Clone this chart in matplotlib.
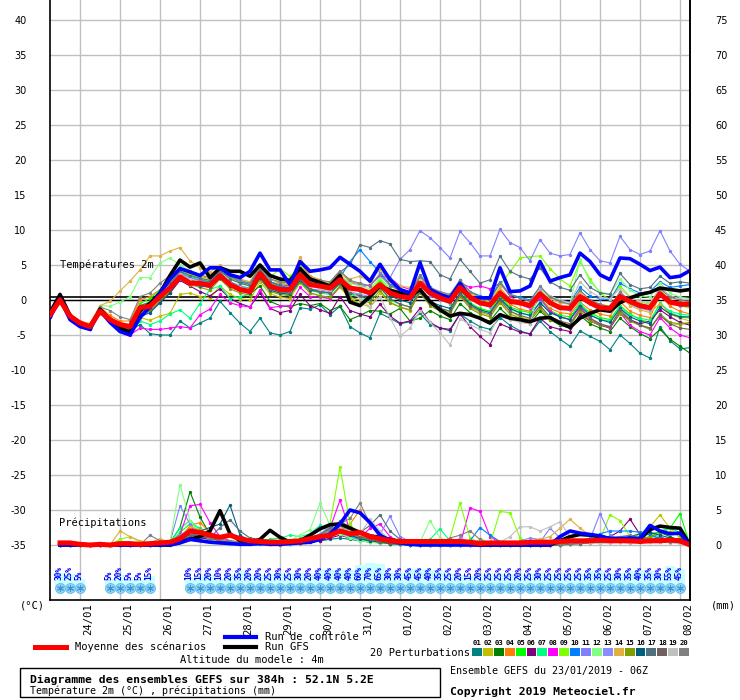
import matplotlib
matplotlib.use('Agg')
import matplotlib.pyplot as plt
from matplotlib.patches import Rectangle

plt.rcParams['font.family'] = ['DejaVu Sans Mono', 'DejaVu Sans']

# ---------------- data ----------------
step_hours = 6
date_labels = ['24/01', '25/01', '26/01', '27/01', '28/01', '29/01', '30/01', '31/01',
               '01/02', '02/02', '03/02', '04/02', '05/02', '06/02', '07/02', '08/02']

temp_mean = [-2.1, 0.0, -2.3, -3.3, -3.8, -1.6, -2.8, -3.5, -3.8,
             -1.1, -0.9, 0.5, 1.7, 3.3, 2.4, 2.4, 2.1, 3.5, 2.2, 1.5, 1.2,
             3.8, 2.0, 1.5, 1.5, 3.6, 2.2, 2.0, 1.7, 2.9, 1.7, 1.5, 1.0, 2.2, 1.0, 0.5, 0.3, 2.4, 1.0, 0.3, -0.2,
             1.8, 0.4, -0.4, -0.7, 1.0, -0.2, -0.4, -0.8, 0.9, -0.4, -1.1, -1.2, 0.5, -0.4, -1.1, -1.2, 0.5, -0.2, -0.8, -1.1, 0.9, -0.3, -0.6, -0.6]
temp_control = [-2.5, 0.2, -2.8, -3.8, -4.2, -1.5, -3.2, -4.5, -5.0,
                -2.5, -1.0, 1.0, 3.0, 4.5, 4.0, 3.5, 4.6, 4.6, 3.6, 3.2, 4.1,
                6.7, 4.3, 4.3, 2.2, 5.5, 4.1, 4.3, 4.6, 6.1, 5.1, 4.1, 2.7, 5.1, 2.9, 1.5, 1.0, 5.3, 1.5, 0.8, 0.3,
                2.4, 0.3, 0.3, 0.3, 4.6, 1.2, 1.3, 2.0, 5.5, 2.7, 3.2, 3.6, 6.7, 5.5, 3.6, 2.9, 6.0, 5.9, 5.1, 4.2, 4.7, 3.2, 3.4, 4.2]
temp_gfs = [-1.8, 0.8, -2.2, -3.5, -4.0, -1.3, -2.8, -4.0, -4.6,
            -1.5, -0.5, 1.0, 3.5, 5.7, 4.7, 5.3, 3.2, 4.6, 4.1, 4.1, 3.4,
            5.0, 3.5, 3.0, 2.8, 4.5, 3.0, 2.5, 2.0, 3.5, -0.3, -0.8, 0.5, 2.0, 1.4, 1.0, 0.5, 1.5, -0.2, -1.4, -2.3,
            -1.9, -2.1, -2.6, -3.3, -2.1, -2.6, -2.8, -3.1, -2.6, -2.5, -3.3, -3.9, -2.6, -1.9, -1.4, -1.6, -0.4, 0.3, 0.8, 1.1, 1.7, 1.5, 1.3, 1.5]

temp_p01 = [-2.3, 0.2, -2.6, -3.6, -4.2, -1.8, -3.0, -3.8, -4.4,
            -3.5, -4.8, -5.0, -5.0, -3.0, -4.0, -3.3, -2.6, -0.2, -1.8, -3.3, -4.5,
            -2.6, -4.7, -5.0, -4.5, -1.1, -1.3, -0.7, -2.1, -0.9, -3.8, -4.7, -5.4, -1.9, -2.6, -3.4, -3.1, -1.9, -3.5, -4.0, -4.4,
            -2.0, -3.0, -3.8, -4.2, -2.5, -3.6, -4.4, -4.9, -3.0, -4.5, -5.6, -6.6, -4.4, -5.2, -5.9, -7.1, -5.0, -6.2, -7.6, -8.3, -3.8, -5.8, -7.0, -6.8]
temp_p02 = [-2.0, 0.1, -2.2, -3.2, -3.9, -1.4, -2.7, -3.6, -4.0,
            -2.5, -2.9, -2.3, -1.9, 0.8, 1.0, 0.5, 0.3, 2.0, 0.8, 0.2, 0.0,
            2.6, 0.9, 0.4, 0.2, 2.5, 1.0, 0.6, 0.3, 1.8, 0.2, -0.5, -1.0, 1.0, -0.3, -1.0, -1.5, 1.2, -0.6, -1.4, -1.8,
            0.5, -1.0, -1.8, -2.2, -0.3, -1.6, -2.4, -2.8, -1.0, -2.6, -3.2, -3.6, -1.4, -2.8, -3.5, -3.9, -2.0, -3.0, -3.6, -4.0, -2.2, -3.4, -3.5, -3.3]
temp_p03 = [-2.4, -0.2, -2.5, -3.5, -4.0, -1.7, -2.9, -3.7, -4.1,
            -1.6, -1.0, 0.4, 1.8, 3.6, 2.9, 2.5, 2.0, 3.8, 2.0, 1.4, 0.9,
            2.0, -0.2, -0.8, -1.0, -0.5, -0.8, -0.5, -1.5, -0.9, -2.8, -2.2, -1.5, -1.6, -2.0, -1.2, -3.0, -2.6, -1.5, -2.3, -2.8,
            -0.5, -1.8, -2.6, -3.0, -1.2, -2.5, -3.0, -3.4, -1.6, -2.8, -3.6, -4.0, -2.2, -3.4, -4.0, -4.5, -2.6, -3.8, -4.8, -5.5, -4.2, -5.6, -6.6, -7.6]
temp_p04 = [-1.9, 0.3, -2.0, -3.0, -3.6, -1.0, -2.2, -3.0, -3.0,
            0.0, 0.5, 1.5, 2.8, 4.3, 3.8, 3.4, 3.0, 4.5, 3.2, 2.6, 2.3,
            4.8, 3.0, 2.4, 2.2, 5.3, 3.4, 2.9, 2.4, 4.0, 2.6, 2.3, 2.0, 5.1, 2.2, 1.2, 0.9, 3.0, 1.6, 1.0, 0.4,
            2.3, 0.8, -0.2, -0.8, 1.5, -0.6, -1.3, -1.6, 0.3, -1.2, -1.8, -2.0, -0.3, -1.4, -2.0, -2.3, -0.2, -1.6, -2.2, -2.5, 0.8, -0.9, -1.6, -2.0]
temp_p05 = [-2.2, 0.0, -2.4, -3.4, -3.9, -1.5, -2.6, -3.4, -3.6,
            -0.5, 0.2, 1.4, 2.5, 4.0, 3.4, 3.0, 2.6, 4.0, 2.6, 2.0, 1.7,
            4.2, 2.4, 1.9, 1.6, 4.0, 2.5, 2.2, 1.9, 3.0, 1.8, 1.2, 0.8, 2.8, 1.2, 0.6, 0.2, 2.6, 0.8, 0.0, -0.5,
            1.4, -0.4, -1.2, -1.6, 0.6, -1.0, -1.5, -1.8, 0.4, -1.5, -2.2, -2.4, -0.6, -1.8, -2.5, -2.8, -0.8, -2.0, -2.8, -3.2, -0.4, -1.8, -2.4, -2.6]
temp_p06 = [-2.3, -0.1, -2.5, -3.5, -4.1, -1.7, -3.0, -3.8, -4.3,
            -2.0, -1.6, -0.2, 1.0, 2.8, 2.0, 1.2, 0.6, 1.6, 0.2, -0.5, -1.0,
            1.0, -1.2, -1.8, -1.5, 0.8, -0.8, -1.4, -1.9, 0.5, -1.5, -2.0, -2.4, -0.6, -2.3, -3.3, -3.0, -1.2, -3.2, -4.0, -4.2,
            -2.0, -3.8, -5.2, -6.4, -3.4, -4.0, -4.6, -4.8, -2.6, -3.8, -4.2, -4.5, -2.0, -3.0, -3.6, -4.0, -1.8, -2.8, -3.4, -3.0, -1.4, -2.4, -3.2, -3.6]
temp_p07 = [-2.1, 0.0, -2.3, -3.3, -3.9, -1.7, -2.9, -3.8, -4.6,
            -3.0, -3.5, -3.0, -2.0, -1.4, -2.6, -0.5, 1.5, 2.0, 0.2, 0.5, 0.8,
            3.0, 1.5, 1.0, 0.8, 2.6, 1.4, 1.0, 0.8, 2.4, 0.8, 0.4, 0.0, 1.8, 0.0, -0.6, -1.0, 1.5, -0.4, -1.2, -1.6,
            1.0, -0.6, -1.4, -1.8, 0.3, -1.3, -1.9, -2.2, -0.2, -1.8, -2.4, -2.8, -0.4, -2.0, -2.8, -3.0, -1.0, -2.2, -2.6, -2.9, -0.6, -1.6, -2.0, -2.2]
temp_p08 = [-2.2, 0.1, -2.4, -3.4, -4.0, -1.8, -3.2, -4.2, -5.0,
            -4.0, -4.2, -4.2, -4.0, -3.8, -4.0, -2.1, -1.3, 0.8, -0.4, -0.8, -1.0,
            1.5, -1.1, -0.9, -0.8, 1.8, 0.5, 0.4, 0.2, 2.0, 1.6, 1.8, 2.2, 3.4, 3.2, 2.0, 1.5, 3.0, 1.4, 0.8, 0.5,
            2.5, 1.8, 2.0, 1.6, 2.4, 0.6, -0.6, -1.2, 0.2, -1.6, -2.4, -2.8, -1.0, -2.6, -3.4, -4.0, -1.8, -3.6, -4.5, -5.0, -2.5, -4.0, -5.0, -5.4]
temp_p09 = [-2.0, 0.2, -2.1, -3.1, -3.7, -1.3, -2.5, -3.3, -3.5,
            -0.8, -0.3, 1.0, 2.4, 4.2, 3.6, 3.2, 2.8, 4.4, 3.0, 2.4, 2.0,
            4.4, 3.2, 4.5, 3.4, 4.8, 3.2, 2.8, 2.4, 3.6, 2.0, 1.6, 1.2, 3.0, 1.5, 0.8, 0.4, 2.8, 1.0, 0.5, 0.6,
            2.8, 1.2, 0.4, 0.2, 2.2, 4.0, 6.0, 6.2, 6.3, 4.5, 3.0, 2.0, 5.5, 3.0, 1.0, 0.0, 2.0, 0.5, -0.3, -0.6, 1.4, 0.0, -0.8, -1.2]
temp_p10 = [-2.0, 0.1, -2.3, -3.3, -3.8, -1.4, -2.7, -3.5, -3.9,
            -1.2, -0.6, 0.6, 2.0, 3.8, 3.2, 2.8, 2.6, 4.0, 3.4, 2.6, 2.2,
            4.5, 2.6, 2.0, 1.8, 4.2, 2.6, 2.4, 2.0, 3.2, 5.5, 7.2, 5.5, 3.9, 2.2, 1.6, 1.2, 3.6, 1.8, 1.0, 0.6,
            2.8, 1.2, 0.6, 0.2, 2.6, 0.8, 0.4, 0.0, 1.8, 0.5, 0.0, -0.3, 1.8, 0.6, 0.2, 0.0, 2.4, 1.6, 1.0, 1.2, 2.6, 1.8, 2.0, 2.2]
temp_p11 = [-2.1, 0.0, -2.2, -3.2, -3.7, -1.5, -2.7, -3.5, -3.8,
            -1.0, -0.4, 0.8, 2.2, 3.9, 3.2, 2.8, 2.4, 3.8, 2.6, 2.0, 1.6,
            4.0, 2.2, 1.8, 1.6, 3.6, 2.2, 2.0, 1.8, 3.4, 2.4, 2.2, 2.0, 3.8, 3.2, 5.8, 7.2, 9.9, 8.9, 7.5, 6.0,
            9.8, 8.2, 6.3, 6.3, 10.1, 8.2, 7.5, 5.6, 8.6, 6.7, 6.3, 6.5, 9.6, 7.2, 5.6, 5.3, 9.1, 7.2, 6.5, 7.0, 9.9, 7.0, 5.1, 4.1]
temp_p12 = [-2.0, 0.2, -2.1, -3.0, -3.4, -0.8, -0.9, -0.3, 0.5,
            3.2, 3.2, 5.3, 6.0, 5.0, 4.2, 3.6, 3.2, 4.6, 3.4, 2.8, 2.6,
            4.6, 3.0, 2.6, 2.4, 4.4, 3.0, 2.6, 2.3, 3.6, 2.4, 2.0, 1.6, 3.2, 1.6, 1.0, 0.6, 2.8, 1.2, 0.6, 0.2,
            2.2, 0.6, 0.0, -0.4, 1.8, 0.2, -0.2, -0.5, 1.6, 0.2, -0.4, -0.6, 5.8, 2.6, 1.2, 0.8, 3.0, 1.4, 0.6, 0.4, 2.4, 1.0, 0.4, 0.2]
temp_p13 = [-2.3, 0.0, -2.4, -3.4, -3.9, -1.6, -2.8, -3.6, -4.0,
            -1.2, -0.8, 0.5, 1.8, 3.5, 2.8, 2.4, 2.2, 3.6, 2.4, 1.8, 1.4,
            3.6, 1.8, 1.2, 1.0, 3.0, 1.6, 1.4, 1.2, 2.6, 1.2, 0.8, 0.5, 2.0, 0.8, 0.4, 0.2, 2.2, 0.6, 0.0, -0.4,
            1.6, 0.2, -0.6, -1.0, 1.0, -0.2, -0.6, -1.0, 1.4, -0.4, -1.0, -1.4, 0.6, -0.6, -1.2, -1.6, 0.8, -0.6, -1.2, -1.5, 1.0, -0.4, -0.8, -1.0]
temp_p14 = [-1.9, 0.3, -2.0, -3.0, -3.4, -0.8, -0.2, 1.3, 2.7,
            4.3, 6.3, 6.3, 7.0, 7.5, 5.6, 4.6, 4.0, 5.0, 3.6, 3.0, 2.6,
            4.8, 3.0, 2.5, 2.2, 6.2, 3.4, 2.8, 2.5, 3.8, 3.0, 3.4, 2.6, 4.4, 2.8, 2.0, 1.8, 3.4, 1.6, 1.0, 0.8,
            2.6, 1.0, 0.2, -0.2, 1.8, 0.0, -0.5, -0.8, 1.2, 0.2, -0.4, -0.6, 1.2, -0.2, -0.6, -0.9, 0.6, -0.8, -1.4, -1.8, -0.5, -2.0, -2.6, -3.0]
temp_p15 = [-2.2, 0.0, -2.4, -3.5, -4.0, -1.7, -3.0, -3.9, -4.4,
            -2.2, -1.5, -0.2, 1.2, 3.0, 2.2, 1.8, 1.4, 3.0, 1.6, 1.0, 0.7,
            3.0, 1.2, 0.8, 0.6, 2.6, 1.0, 0.6, 0.4, 2.0, 0.4, 0.0, -0.4, 1.4, -0.4, -1.0, -1.4, 1.0, -0.8, -1.6, -2.0,
            0.6, -1.2, -2.0, -2.4, -0.4, -2.0, -2.6, -3.0, -1.2, -2.8, -3.4, -3.6, -1.6, -3.0, -3.6, -3.8, -1.8, -3.0, -3.6, -4.2, -2.0, -3.2, -3.4, -3.2]
temp_p16 = [-2.4, -0.1, -2.6, -3.6, -4.2, -1.8, -3.1, -4.0, -4.6,
            -2.4, -1.8, -0.4, 1.0, 3.2, 2.4, 2.0, 1.8, 3.2, 2.0, 1.4, 1.0,
            3.2, 1.4, 1.0, 0.8, 2.8, 1.4, 1.2, 1.0, 2.4, 1.0, 0.6, 0.3, 2.0, 0.6, 0.0, -0.4, 1.6, -0.2, -0.8, -1.2,
            1.0, -0.6, -1.4, -1.8, 0.2, -1.2, -1.8, -2.2, -0.4, -1.8, -2.4, -2.8, -0.8, -2.2, -2.8, -3.2, -1.2, -2.4, -3.0, -3.4, -1.0, -2.0, -2.4, -2.4]
temp_p17 = [-2.0, 0.1, -2.2, -3.2, -3.7, -1.4, -2.6, -3.4, -3.7,
            -0.8, -0.3, 1.0, 2.4, 4.1, 3.5, 3.1, 2.8, 4.2, 3.0, 2.4, 2.0,
            4.4, 2.6, 2.2, 2.0, 4.0, 2.8, 2.4, 2.2, 4.0, 5.0, 7.9, 7.5, 8.5, 8.0, 5.8, 5.5, 5.6, 5.5, 3.6, 3.0,
            5.8, 4.1, 2.4, 2.9, 6.3, 4.1, 3.4, 3.0, 4.6, 2.6, 1.8, 1.4, 3.6, 1.8, 1.0, 0.8, 3.8, 2.2, 1.6, 1.8, 3.4, 2.4, 2.6, 2.4]
temp_p18 = [-2.2, 0.0, -2.3, -3.4, -3.9, -1.5, -2.8, -3.6, -4.2,
            -1.8, -1.2, 0.2, 1.6, 3.4, 2.6, 2.2, 1.9, 3.4, 2.2, 1.6, 1.2,
            3.4, 1.6, 1.2, 1.0, 3.0, 1.6, 1.2, 1.0, 2.6, 1.0, 0.6, 0.2, 1.8, 0.2, -0.6, -1.0, 1.2, -0.6, -1.2, -1.6,
            0.8, -0.8, -1.6, -2.0, 0.0, -1.6, -2.2, -2.6, -0.8, -2.4, -3.0, -3.4, -1.2, -2.6, -3.4, -3.8, -1.4, -2.8, -3.6, -4.0, -2.2, -3.4, -4.0, -4.2]
temp_p19 = [-2.1, 0.1, -2.3, -3.3, -3.8, -1.5, -2.7, -3.5, -3.9,
            -1.0, -0.5, 0.8, 2.0, 3.7, 3.0, 2.6, 2.3, 3.7, 2.4, 1.8, 1.5,
            3.8, 2.0, 1.6, 1.4, 3.4, 2.0, 1.6, 1.4, 3.0, 1.4, 0.2, -1.0, 0.5, -2.5, -5.2, -4.0, -1.5, -3.2, -4.7, -6.4,
            -2.7, -3.5, -4.2, -4.7, -2.0, -2.8, -3.2, -3.4, 1.8, 0.6, 0.0, -0.4, 2.6, 1.2, 0.4, 0.2, 1.6, 0.4, -0.2, -0.4, 1.8, 0.6, 0.2, 0.0]
temp_p20 = [-2.0, 0.2, -2.1, -3.1, -3.6, -1.0, -1.5, -2.4, -2.8,
            0.5, 1.0, 2.4, 3.5, 4.6, 4.2, 3.6, 3.2, 4.6, 3.4, 2.8, 2.4,
            4.8, 3.0, 2.6, 2.4, 4.6, 3.2, 2.8, 2.6, 4.2, 2.8, 2.4, 2.0, 3.6, 2.0, 1.4, 1.0, 3.4, 1.8, 1.2, 0.8,
            2.8, 1.2, 0.4, 0.0, 2.4, 0.8, 0.2, -0.2, 2.0, 0.4, -0.2, -0.6, 1.4, 0.0, -0.6, -1.0, 1.2, -0.2, -0.8, -1.2, 1.6, 0.4, 0.0, -0.2]

# precipitation (mm per 6h), steps 1..64
precip_mean = [0.3, 0.3, 0.1, 0.0, 0.1, 0.0, 0.2, 0.2, 0.1, 0.2, 0.3, 0.4, 0.9, 2.0, 1.8, 1.4,
               1.1, 1.4, 0.9, 0.6, 0.5, 0.4, 0.4, 0.5, 0.6, 0.9, 1.2, 1.4, 2.0, 1.6, 1.8, 1.2,
               0.9, 0.6, 0.5, 0.5, 0.5, 0.5, 0.5, 0.5, 0.5, 0.4, 0.2, 0.3, 0.3, 0.3, 0.3, 0.4,
               0.4, 0.4, 0.5, 0.6, 0.6, 0.6, 0.7, 0.6, 0.6, 0.6, 0.5, 0.6, 0.6, 0.7, 0.6, 0.0]
precip_control = [0, 0, 0, 0, 0, 0, 0, 0, 0, 0, 0, 0, 0.3, 0.8, 0.6, 0.4,
                  0.3, 0.2, 0.1, 0.1, 0.2, 0.1, 0.1, 0.2, 0.3, 0.4, 0.8, 1.6, 3.0, 5.0, 4.6, 3.2,
                  1.4, 0.6, 0.3, 0.1, 0, 0, 0, 0, 0, 0, 0, 0, 0, 0, 0, 0,
                  0, 0, 1.2, 2.0, 1.7, 1.5, 1.3, 0.9, 0.9, 1.0, 0.9, 2.8, 2.0, 1.6, 1.7, 0]
precip_gfs = [0, 0, 0, 0, 0, 0, 0, 0, 0, 0, 0, 0, 0.4, 0.8, 1.2, 2.0,
              4.9, 1.6, 0.6, 0.3, 0.8, 2.1, 1.1, 0.4, 0.6, 1.4, 2.3, 2.9, 3.0, 2.4, 1.8, 1.3,
              1.1, 0.8, 0.5, 0.4, 0.3, 0.2, 0.2, 0.2, 0.1, 0.1, 0, 0, 0, 0, 0, 0,
              0, 0, 0.6, 1.2, 1.5, 1.4, 1.2, 0.9, 0.9, 0.9, 0.9, 2.2, 2.7, 2.5, 2.4, 0]

precip_p01 = [0, 0, 0, 0, 0, 0, 0, 0, 0, 0, 0, 0, 0.5, 1.5, 1.2, 0.8,
              0.6, 0.4, 0.2, 0.3, 0.2, 0.1, 0, 0.2, 0.3, 0.4, 0.6, 0.8, 1.0, 0.8, 0.6, 0.4,
              0.3, 0.2, 0.1, 0, 0, 0, 0, 0, 0, 0, 0, 0.2, 0.3, 0.2, 0.1, 0,
              0, 0.2, 0.3, 0.4, 0.5, 0.6, 0.8, 1.0, 0.6, 0.4, 0.6, 0.8, 1.2, 0.6, 0.3, 0]
precip_p02 = [0, 0, 0, 0, 0, 0, 0, 0.2, 0.1, 0, 0, 0, 0.6, 2.0, 1.6, 1.0,
              0.5, 0.3, 0.2, 0.4, 0.6, 0.3, 0.2, 0.1, 0.2, 0.5, 0.8, 1.5, 2.0, 1.2, 0.8, 0.6,
              0.4, 0.3, 0.2, 0.1, 0, 0, 0, 0, 0, 0, 0.8, 0.4, 0.2, 0, 0, 0,
              0, 0, 0, 0.3, 0.6, 0.9, 1.2, 0.8, 0.5, 0.8, 1.6, 2.6, 4.3, 2.4, 1.0, 0]
precip_p03 = [0, 0, 0, 0, 0, 0, 0, 0, 0, 0, 0, 0.3, 2.5, 7.6, 4.0, 1.5,
              0.8, 0.5, 0.3, 0.5, 0.8, 0.4, 0.3, 0.5, 0.6, 0.8, 1.4, 2.4, 2.0, 1.4, 1.0, 0.6,
              0.4, 0.2, 0.1, 0, 0, 0, 0, 0, 0, 0.2, 0.4, 0.3, 0.2, 0.1, 0, 0,
              0, 0, 0.2, 0.3, 0.4, 0.5, 0.6, 0.8, 1.0, 0.8, 1.2, 1.6, 1.8, 1.2, 0.6, 0]
precip_p04 = [0, 0, 0, 0, 0, 0, 0, 0.1, 0, 0, 0, 0, 0.8, 2.8, 3.2, 1.8,
              1.0, 0.6, 0.4, 0.3, 0.5, 0.8, 1.0, 0.7, 0.5, 0.6, 0.9, 1.6, 2.6, 3.0, 5.0, 3.0,
              1.5, 0.8, 0.4, 0.2, 0.1, 0, 0, 0, 0, 0, 0, 0, 0.2, 0.1, 0, 0,
              0, 0, 0, 0.2, 0.4, 0.5, 0.6, 0.5, 0.4, 0.5, 0.6, 0.8, 1.0, 0.8, 0.6, 0]
precip_p05 = [0, 0, 0, 0, 0, 0, 0, 0, 0, 0, 0, 0.2, 1.8, 3.0, 2.4, 1.2,
              0.6, 0.4, 0.2, 0.3, 0.4, 0.3, 0.2, 0.3, 0.5, 0.7, 1.0, 1.8, 2.5, 1.8, 1.2, 0.8,
              0.5, 0.3, 0.2, 0.1, 0, 0, 0, 0, 0.2, 0.3, 0.2, 0.1, 0, 0, 0, 0,
              0, 0, 0, 0.2, 0.3, 0.4, 0.6, 0.8, 0.6, 0.5, 0.8, 1.2, 2.0, 2.4, 4.5, 0]
precip_p06 = [0, 0, 0, 0, 0, 0, 0, 0, 0, 0, 0, 0.1, 0.5, 1.2, 1.0, 0.8,
              0.5, 0.3, 0.2, 0.2, 0.3, 0.2, 0.1, 0.2, 0.3, 0.4, 0.6, 1.0, 1.4, 1.0, 0.7, 0.5,
              0.3, 0.2, 0.1, 0, 0, 0, 0, 0, 0, 0, 0, 0, 0, 0, 0.2, 0.3,
              0.4, 0.6, 0.8, 0.7, 0.5, 0.6, 0.8, 1.2, 2.0, 3.7, 1.5, 0.8, 0.6, 0.5, 0.3, 0]
precip_p07 = [0, 0, 0, 0, 0, 0, 0, 0, 0, 0, 0, 0.4, 2.4, 3.5, 2.2, 1.0,
              0.5, 0.4, 0.3, 0.4, 0.6, 0.8, 1.0, 1.4, 1.2, 1.6, 2.8, 2.2, 1.6, 1.0, 0.7, 0.5,
              0.3, 0.2, 0.1, 0, 0, 0.8, 2.3, 0.6, 0.2, 0, 0, 0, 0.2, 0.1, 0, 0,
              0, 0, 0, 0.2, 0.3, 0.4, 0.5, 0.6, 0.4, 0.5, 0.6, 1.0, 1.6, 2.4, 1.8, 0]
precip_p08 = [0, 0, 0, 0, 0, 0, 0, 0, 0, 0, 0, 0.3, 1.5, 5.6, 5.8, 3.2,
              1.2, 0.6, 0.4, 0.3, 0.3, 0.2, 0.2, 0.3, 0.4, 0.6, 1.0, 2.4, 6.4, 2.0, 1.0, 2.4,
              3.0, 1.2, 0.4, 0.2, 0.1, 0, 0, 0, 0, 5.3, 4.8, 1.2, 0.3, 0.1, 0, 0,
              0, 0, 0, 0.1, 0.2, 0.3, 0.4, 0.5, 0.4, 0.3, 0.4, 0.6, 0.8, 0.6, 0.4, 0]
precip_p09 = [0, 0, 0, 0, 0, 0, 0.8, 1.2, 0.4, 0, 0, 0, 1.0, 2.0, 1.6, 1.0,
              0.5, 0.3, 0.2, 0.2, 0.3, 0.2, 0.1, 0.2, 0.4, 0.6, 1.2, 3.0, 11.1, 3.0, 1.2, 0.6,
              0.4, 0.2, 0.1, 0, 0, 0, 0, 1.0, 6.0, 1.0, 0.3, 0.1, 4.8, 4.6, 1.0, 0.2,
              0, 0, 0, 0.1, 0.2, 0.4, 0.8, 4.3, 3.5, 1.2, 0.6, 0.5, 0.6, 0.8, 1.0, 0]
precip_p10 = [0, 0, 0, 0, 0, 0, 0, 0, 0, 0, 0, 0.2, 1.2, 2.5, 2.0, 1.2,
              0.6, 0.4, 0.3, 0.3, 0.4, 0.3, 0.2, 0.3, 0.6, 0.9, 1.4, 2.0, 2.6, 2.0, 1.4, 1.0,
              0.6, 0.3, 0.2, 0.1, 0, 0, 0, 0, 0, 0.6, 2.5, 1.4, 0.5, 0.2, 0, 0,
              0, 0, 0.1, 0.3, 0.6, 1.0, 1.6, 2.0, 2.0, 2.0, 1.8, 1.4, 1.0, 0.8, 0.6, 0]
precip_p11 = [0, 0, 0, 0, 0, 0, 0, 0, 0, 0, 0, 0.4, 5.6, 3.0, 1.5, 0.8,
              0.5, 0.3, 0.2, 0.3, 0.4, 0.6, 0.4, 0.3, 0.8, 1.2, 2.6, 2.0, 1.6, 1.2, 0.8, 1.2,
              1.5, 4.1, 1.2, 0.5, 0.3, 0.1, 0, 0.1, 0.8, 0.4, 0.2, 0.1, 0, 0, 0, 0,
              0.4, 2.4, 1.0, 0.5, 0.6, 0.8, 4.5, 1.5, 0.6, 0.4, 0.5, 0.6, 0.4, 0.5, 0.3, 0]
precip_p12 = [0, 0, 0, 0, 0, 0, 0.6, 0.3, 0.2, 0, 0, 0.5, 8.6, 3.5, 1.6, 0.8,
              0.5, 0.3, 0.2, 0.2, 0.3, 0.2, 0.2, 0.6, 1.4, 2.2, 6.0, 2.8, 1.6, 1.0, 0.6, 0.4,
              0.3, 0.2, 0.1, 0.2, 0.4, 3.5, 1.0, 0.3, 0.2, 0.1, 0, 0, 0, 0, 0, 0,
              0, 0, 0, 0.1, 0.2, 0.3, 0.4, 0.5, 0.4, 0.3, 0.4, 0.6, 0.5, 0.4, 0.3, 0]
precip_p13 = [0, 0, 0, 0, 0, 0, 0, 0, 0, 0, 0, 0.3, 1.4, 2.2, 1.8, 1.2,
              0.8, 0.5, 0.3, 0.4, 0.6, 0.4, 0.3, 0.4, 0.7, 1.0, 1.6, 2.6, 2.2, 1.6, 1.0, 0.8,
              0.5, 0.3, 0.2, 0.1, 0, 0, 0, 0, 1.0, 0.4, 0.2, 0.1, 0, 0, 0.6, 1.0,
              0.8, 0.6, 0.4, 0.3, 0.3, 0.4, 0.5, 0.8, 1.0, 0.8, 0.6, 0.5, 0.4, 0.4, 0.3, 0]
precip_p14 = [0, 0, 0, 0, 0, 0, 2.0, 1.2, 0.6, 0.3, 0.9, 0.4, 1.0, 2.6, 2.2, 1.4,
              0.8, 0.5, 0.4, 0.5, 0.6, 0.4, 0.3, 0.4, 0.6, 0.8, 1.2, 2.2, 2.8, 2.0, 1.4, 0.9,
              0.5, 0.3, 0.2, 0.1, 0, 0, 0, 0, 0, 0, 0, 0, 0, 0, 0.3, 0.6,
              0.8, 1.2, 2.4, 3.7, 2.4, 1.4, 0.8, 0.6, 0.5, 0.6, 0.8, 1.0, 0.8, 0.6, 0.4, 0]
precip_p15 = [0, 0, 0, 0, 0, 0, 0, 0, 0, 0, 0, 0.2, 1.0, 1.8, 1.6, 1.0,
              0.6, 0.4, 0.3, 0.3, 0.4, 0.3, 0.2, 0.3, 0.5, 0.8, 1.2, 1.8, 2.2, 1.6, 1.0, 0.6,
              0.4, 0.2, 0.1, 0, 0, 0, 0, 0, 0, 0, 0, 0, 0, 0, 0, 0,
              0, 0, 0.2, 0.3, 0.4, 0.6, 0.8, 1.0, 1.2, 1.0, 0.8, 1.2, 1.6, 1.8, 1.4, 0]
precip_p16 = [0, 0, 0, 0, 0, 0, 0, 0, 0, 0, 0, 0.3, 1.2, 2.0, 2.0, 2.5,
              3.0, 5.7, 1.4, 0.6, 0.5, 0.4, 0.3, 0.4, 0.5, 0.7, 1.0, 1.6, 2.0, 1.4, 0.9, 0.6,
              0.4, 0.2, 0.1, 0, 0, 0, 0, 0, 0, 0, 0, 0, 0, 0, 0, 0,
              0, 0, 0, 0.2, 0.4, 0.6, 0.8, 1.0, 0.8, 1.2, 1.6, 1.8, 1.4, 1.0, 0.8, 0]
precip_p17 = [0, 0, 0, 0, 0, 0, 0, 0, 0, 0, 0, 0.2, 0.8, 1.4, 1.2, 1.0,
              2.5, 3.6, 2.0, 1.0, 0.8, 0.6, 0.4, 0.6, 0.8, 1.0, 1.5, 2.4, 3.4, 2.6, 1.8, 2.8,
              4.3, 2.0, 0.8, 0.3, 0.1, 0, 0, 0, 0, 0, 0, 0.2, 0.4, 0.2, 0, 0,
              0, 0, 0, 0.2, 0.4, 0.6, 0.8, 1.2, 1.0, 0.8, 0.6, 0.8, 1.0, 0.8, 0.6, 0]
precip_p18 = [0, 0, 0, 0, 0, 0, 0, 0, 0, 0, 0, 0.2, 0.8, 1.6, 1.4, 1.0,
              0.6, 0.5, 0.4, 0.3, 0.4, 0.3, 0.2, 0.3, 0.5, 0.8, 1.2, 1.8, 2.4, 1.8, 1.2, 0.8,
              0.5, 0.3, 0.2, 0.1, 0, 0, 0, 0, 0, 0, 0, 0, 0, 0, 0, 0,
              0, 0, 0, 0.1, 0.2, 0.3, 0.4, 0.5, 0.6, 0.5, 0.4, 0.6, 0.8, 0.6, 0.4, 0]
precip_p19 = [0, 0, 0, 0, 0, 0, 0, 0, 0, 0, 0, 0.2, 1.0, 1.8, 1.5, 1.2,
              0.8, 0.6, 0.4, 0.3, 0.4, 0.3, 0.2, 0.3, 0.5, 0.8, 1.2, 1.8, 2.4, 2.0, 1.6, 3.7,
              2.0, 0.8, 0.4, 0.2, 0.1, 0, 0, 0, 0, 0, 0, 0, 0.4, 1.2, 2.6, 2.6,
              2.0, 2.6, 3.3, 1.2, 0.5, 0.3, 0.2, 0.3, 0.4, 0.5, 0.6, 0.5, 0.4, 0.3, 0.2, 0]
precip_p20 = [0, 0, 0, 0, 0, 0, 0, 0, 0, 1.4, 0.6, 0.3, 1.2, 2.0, 1.8, 1.2,
              0.8, 0.6, 0.4, 0.4, 0.5, 0.4, 0.3, 0.4, 0.6, 0.9, 1.4, 2.2, 3.0, 3.8, 6.0, 3.0,
              1.6, 0.8, 0.4, 0.2, 0.1, 0.2, 0.4, 1.0, 1.4, 2.0, 0.8, 0.3, 0.1, 0, 0, 0,
              0, 0, 0, 0.2, 0.4, 0.6, 0.8, 1.0, 1.2, 1.4, 1.0, 0.8, 0.6, 0.5, 0.4, 0]

temp_perts = [temp_p01, temp_p02, temp_p03, temp_p04, temp_p05, temp_p06, temp_p07, temp_p08, temp_p09, temp_p10,
              temp_p11, temp_p12, temp_p13, temp_p14, temp_p15, temp_p16, temp_p17, temp_p18, temp_p19, temp_p20]
precip_perts = [precip_p01, precip_p02, precip_p03, precip_p04, precip_p05, precip_p06, precip_p07, precip_p08,
                precip_p09, precip_p10, precip_p11, precip_p12, precip_p13, precip_p14, precip_p15, precip_p16,
                precip_p17, precip_p18, precip_p19, precip_p20]

pert_colors = ['#008080', '#C0C000', '#008000', '#FF8000', '#00FF00', '#800080', '#00FF80', '#FF00FF',
               '#80FF00', '#0080FF', '#8080FF', '#80FF80', '#8C8CFF', '#E0B040', '#80A000', '#005F80',
               '#507080', '#706060', '#C0C0C0', '#808080']
pert_names = ['%02d' % i for i in range(1, 21)]

snow_steps = [1, 2, 3, 6, 7, 8, 9, 10] + list(range(14, 64))
snow_prob = [30, 25, 5, 5, 20, 5, 5, 15,
             10, 15, 20, 10, 20, 35, 20, 20, 25, 30, 25, 30, 20, 40, 40, 40, 40, 60, 70, 65, 30, 30,
             45, 45, 40, 35, 25, 20, 15, 20, 25, 25, 25, 20, 25, 30, 25, 25, 25, 25, 35, 35,
             25, 30, 35, 40, 35, 30, 55, 45]

# ---------------- figure ----------------
W, H = 740, 700
fig = plt.figure(figsize=(W / 100, H / 100), dpi=100)
ax = fig.add_axes([50 / W, 100 / H, 640 / W, 600 / H])
ylo, yhi = -300 / 7.0, 300 / 7.0
ax.set_xlim(0, 384)
ax.set_ylim(ylo, yhi)

def px2y(py):
    return (300 - py) / 7.0

hours = [i * step_hours for i in range(len(temp_mean))]
phours = [i * step_hours for i in range(1, len(precip_mean) + 1)]

# grid
for v in range(-35, 41, 5):
    ax.axhline(v, color='#C0C0C0', lw=1.0, zorder=0)
day_hours = [18 + 24 * k for k in range(len(date_labels))]
for h in day_hours:
    ax.axvline(h, color='#C0C0C0', lw=1.0, zorder=0)

# zero line
ax.axhline(0, color='black', lw=1.0, zorder=1)
ax.axhline(0.45, color='black', lw=1.2, zorder=1)

# snow probability band
bar_w = step_hours
for s, p in zip(snow_steps, snow_prob):
    x = s * step_hours
    bottom = px2y(588)
    top = px2y(584 - (4 + 0.25 * p))
    ax.add_patch(Rectangle((x - bar_w / 2, bottom), bar_w, top - bottom,
                           facecolor='#C8FFFF', edgecolor='none', zorder=1))
sx = [s * step_hours for s in snow_steps]
ax.plot(sx, [px2y(588)] * len(sx), ls='none', marker='o', ms=7.2, mfc='#8FD6F6', mec='#66B8EC', mew=0.6, zorder=2)
ax.plot(sx, [px2y(588)] * len(sx), ls='none', marker=(6, 2, 0), ms=5, mec='#3F94D8', mew=0.7, zorder=3)
for s, p in zip(snow_steps, snow_prob):
    ax.text(s * step_hours - 0.6, px2y(580), '%d%%' % p, rotation=90, ha='center', va='bottom',
            fontsize=5.6, color='#0000FF', fontweight='bold', zorder=4)

# perturbations
for vals, pv, c in zip(temp_perts, precip_perts, pert_colors):
    ax.plot(hours, vals, color=c, lw=0.8, marker='.', ms=2.8, zorder=3)
    ax.plot(phours, [v - 35 for v in pv], color=c, lw=0.8, marker='.', ms=2.8, zorder=3)

# GFS, control, mean
ax.plot(hours, temp_gfs, color='black', lw=2.6, zorder=4)
ax.plot(phours, [v - 35 for v in precip_gfs], color='black', lw=2.6, zorder=4)
ax.plot(hours, temp_control, color='#0000FF', lw=2.6, zorder=5)
ax.plot(phours, [v - 35 for v in precip_control], color='#0000FF', lw=2.6, zorder=5)
ax.plot(hours, temp_mean, color='#FF0000', lw=3.6, zorder=6)
ax.plot(phours, [v - 35 for v in precip_mean], color='#FF0000', lw=3.6, zorder=6)

# labels in plot
ax.text(10 * 384 / 640, px2y(265), 'Températures 2m', fontsize=7.5, ha='left', va='center', zorder=7)
ax.text(9 * 384 / 640, px2y(523), 'Précipitations', fontsize=7.5, ha='left', va='center', zorder=7)

# axes style
ax.spines['top'].set_visible(False)
for side in ['left', 'right', 'bottom']:
    ax.spines[side].set_color('black')
    ax.spines[side].set_linewidth(1.2)
ax.set_yticks(range(-35, 41, 5))
ax.set_yticklabels([str(v) for v in range(-35, 41, 5)], family='DejaVu Sans', fontsize=7)
ax.tick_params(axis='y', length=0, pad=17)
ax.set_xticks([])

ax2 = ax.twinx()
ax2.set_ylim(ylo + 35, yhi + 35)
ax2.set_yticks(range(0, 76, 5))
ax2.set_yticklabels([str(v) for v in range(0, 76, 5)], family='DejaVu Sans', fontsize=7)
ax2.tick_params(axis='y', length=0, pad=18)
for side in ['top', 'left', 'bottom']:
    ax2.spines[side].set_visible(False)
ax2.spines['right'].set_linewidth(1.2)

# date labels
for h, lab in zip(day_hours, date_labels):
    ax.text(h + 4.8, ylo - 0.4, lab, rotation=90, ha='center', va='top', fontsize=7.6, clip_on=False)

def fx(x):
    return x / W

def fy(y):
    return 1 - y / H

fig.text(fx(20), fy(606), '(°C)', fontsize=7.5, va='center', ha='left')
fig.text(fx(711), fy(606), '(mm)', fontsize=7.5, va='center', ha='left')

# legend
fig.add_artist(plt.Line2D([fx(35), fx(66)], [fy(647), fy(647)], color='#FF0000', lw=3.6))
fig.text(fx(75), fy(647), 'Moyenne des scénarios', fontsize=7.5, va='center')
fig.add_artist(plt.Line2D([fx(225), fx(256)], [fy(637), fy(637)], color='#0000FF', lw=3.0))
fig.text(fx(265), fy(637), 'Run de contrôle', fontsize=7.5, va='center')
fig.add_artist(plt.Line2D([fx(225), fx(256)], [fy(647), fy(647)], color='black', lw=3.0))
fig.text(fx(265), fy(647), 'Run GFS', fontsize=7.5, va='center')
fig.text(fx(180), fy(660), 'Altitude du modele : 4m', fontsize=7.5, va='center')
fig.text(fx(370), fy(653), '20 Perturbations', fontsize=7.5, va='center')
bw = 10.9
for i, (c, nm) in enumerate(zip(pert_colors, pert_names)):
    x0 = 472 + i * bw
    fig.add_artist(Rectangle((fx(x0), fy(656)), (bw - 1) / W, 8 / H, facecolor=c, edgecolor='none',
                             transform=fig.transFigure))
    fig.text(fx(x0 + (bw - 1) / 2), fy(643), nm, fontsize=5.2, ha='center', va='center', fontweight='bold')

fig.add_artist(Rectangle((fx(20), fy(697)), 420 / W, 29 / H, facecolor='none', edgecolor='black', lw=1.0,
                         transform=fig.transFigure))
fig.text(fx(30), fy(680), 'Diagramme des ensembles GEFS sur 384h : 52.1N 5.2E', fontsize=8.2,
         fontweight='bold', va='center')
fig.text(fx(30), fy(691), 'Température 2m (°C) , précipitations (mm)', fontsize=7.2, va='center')
fig.text(fx(450), fy(671), 'Ensemble GEFS du 23/01/2019 - 06Z', fontsize=7.2, va='center')
fig.text(fx(450), fy(692), 'Copyright 2019 Meteociel.fr', fontsize=8.2, fontweight='bold', va='center')

fig.savefig('out.png', dpi=100)
